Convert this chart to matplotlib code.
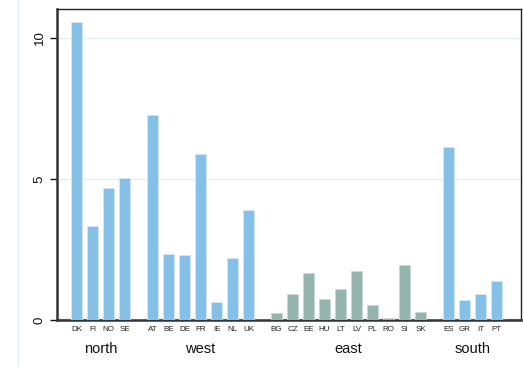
import matplotlib.pyplot as plt
import numpy as np
from matplotlib.lines import Line2D

plt.rcParams['font.family'] = ['Liberation Sans', 'DejaVu Sans']

# Values per country, grouped by region
north = ['DK', 'FI', 'NO', 'SE']
north_vals = [10.57, 3.34, 4.69, 5.04]
west = ['AT', 'BE', 'DE', 'FR', 'IE', 'NL', 'UK']
west_vals = [7.26, 2.34, 2.30, 5.88, 0.65, 2.20, 3.90]
east = ['BG', 'CZ', 'EE', 'HU', 'LT', 'LV', 'PL', 'RO', 'SI', 'SK']
east_vals = [0.25, 0.91, 1.68, 0.74, 1.10, 1.74, 0.53, 0.07, 1.95, 0.28]
south = ['ES', 'GR', 'IT', 'PT']
south_vals = [6.13, 0.71, 0.93, 1.38]

groups = [('north', north, north_vals), ('west', west, west_vals),
          ('east', east, east_vals), ('south', south, south_vals)]

blue = '#85c0e9'
green = '#95b4ac'
gap = 1.75
width = 0.645

fig = plt.figure(figsize=(5.23, 3.67), dpi=100)
ax = fig.add_axes([57 / 523, 1 - 320 / 367, 464 / 523, 311 / 367])

pos = 0.0
xt, xl = [], []
for name, labels, vals in groups:
    x = pos + np.arange(len(labels))
    color = green if name == 'east' else blue
    ax.bar(x, vals, width=width, color=color, edgecolor='#d4e8f5' if color == blue else '#c8d8d4',
           linewidth=0.6, zorder=3)
    xt.extend(x)
    xl.extend(labels)
    ax.text(x.mean(), -22 / 311, name, transform=ax.get_xaxis_transform(), ha='center', va='top',
            fontsize=10.5, color='#111111')
    pos = x[-1] + gap

ax.set_xlim(-1.22, 27.78)
ax.set_ylim(0, 11.03)

# country labels under each bar
for x, lab in zip(xt, xl):
    ax.text(x, -6 / 311, lab, transform=ax.get_xaxis_transform(), ha='center', va='top',
            fontsize=5.8, color='#222222')
ax.set_xticks([])

# small zero-height stubs at both ends
ax.plot([-1.15, -0.45], [0.02, 0.02], color='#bbbbbb', lw=1, zorder=2, solid_capstyle='butt')
ax.plot([26.85, 27.75], [0.02, 0.02], color='#bbbbbb', lw=1, zorder=2, solid_capstyle='butt')

ax.set_yticks([0, 5, 10])
ax.set_yticklabels(['0', '5', '10'], rotation=90, va='center', fontsize=9.5)
ax.tick_params(axis='y', length=5, width=1, pad=3, colors='#111111')
ax.yaxis.grid(True, color='#e6eeee', lw=1, zorder=0)
ax.set_axisbelow(True)

for s in ['left', 'bottom']:
    ax.spines[s].set_linewidth(1.8)
    ax.spines[s].set_color('#333333')
for s in ['top', 'right']:
    ax.spines[s].set_linewidth(1.0)
    ax.spines[s].set_color('#222222')

# faint outer region border
fig.add_artist(Line2D([18 / 523, 18 / 523], [0, 1], color='#e3eef0', lw=1))

fig.savefig('out.png', dpi=100)
